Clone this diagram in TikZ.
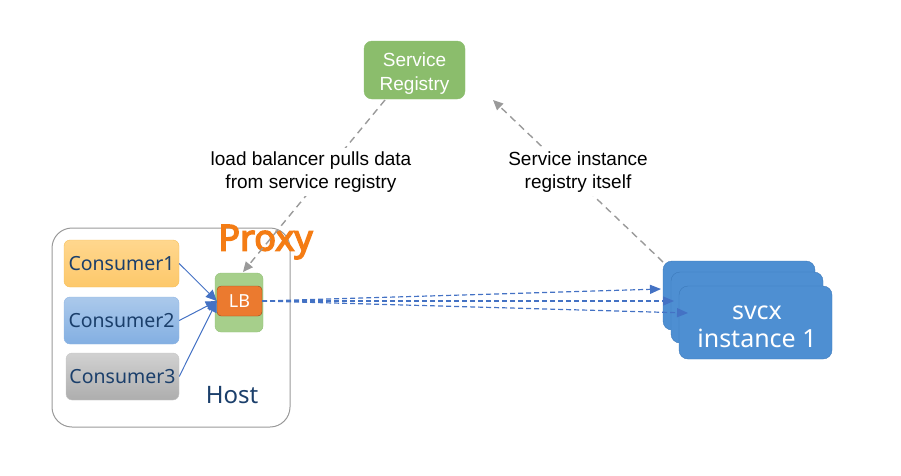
\documentclass[tikz,border=0pt]{standalone}
\usepackage{fontspec}
\setmainfont{Liberation Sans}
\newfontfamily\noto{Noto Sans}
\newfontfamily\notobold{Noto Sans}[FakeBold=4]
\usetikzlibrary{arrows.meta}
\definecolor{regGreen}{HTML}{8BBD6C}
\definecolor{lbGreen}{HTML}{A6CF8B}
\definecolor{lbGreenB}{HTML}{93C279}
\definecolor{lbOrange}{HTML}{EB7A2F}
\definecolor{lbOrangeB}{HTML}{9C4A1C}
\definecolor{proxyOrange}{HTML}{F47C14}
\definecolor{darkBlue}{HTML}{1B3F6B}
\definecolor{svcBlue}{HTML}{4E8FD2}
\definecolor{svcBlueB}{HTML}{3B79BB}
\definecolor{arrBlue}{HTML}{4472C4}
\definecolor{dashGray}{HTML}{9A9A9A}
\definecolor{c1top}{HTML}{FFD78E}
\definecolor{c1bot}{HTML}{FDC86A}
\definecolor{c1bd}{HTML}{F5BF5A}
\tikzset{
  registry/.style={draw=regGreen, fill=regGreen, rounded corners=8pt, minimum width=101pt, minimum height=58pt},
  consumer/.style={rounded corners=6pt, minimum height=47pt, text=darkBlue, font=\noto\fontsize{19.5pt}{22pt}\selectfont},
  svc/.style={draw=svcBlueB, fill=svcBlue, rounded corners=9pt, minimum width=152pt},
  grayarrow/.style={draw=dashGray, line width=1.4pt, dash pattern=on 7pt off 5pt, -{Triangle[length=10pt,width=9pt]}},
  bluedash/.style={draw=arrBlue, line width=1.2pt, dash pattern=on 5pt off 3pt, -{Triangle[length=11pt,width=9pt]}},
  bluearrow/.style={draw=arrBlue, line width=1pt, -{Triangle[length=11pt,width=10pt]}},
  lbl/.style={fill=white, align=center, font=\fontsize{19pt}{23.5pt}\selectfont, inner sep=3pt}
}
\begin{document}
\begin{tikzpicture}[x=1pt,y=-1pt]
\useasboundingbox (0,0) rectangle (901,475);
% registry
\node[registry] (reg) at (414.5,70) {};
\node[text=white, align=center, font=\fontsize{19pt}{24pt}\selectfont] (regt) at (414.5,74) {Service\\Registry};
% host
\node[draw=black!40, line width=1pt, rounded corners=20pt, minimum width=238pt, minimum height=199pt] (host) at (171,327.5) {};
\node[consumer, draw=c1bd, top color=c1top, bottom color=c1bot, minimum width=115pt] (c1) at (121.5,263.5) {Consumer1};
\node[consumer, draw={rgb,255:red,143;green,181;blue,227}, top color={rgb,255:red,171;green,201;blue,235}, bottom color={rgb,255:red,131;green,175;blue,226}, minimum width=115pt] (c2) at (121.5,320.5) {Consumer2};
\node[consumer, draw=black!22, top color=black!18, bottom color=black!32, minimum width=113pt] (c3) at (122.5,376.5) {Consumer3};
\node[text=darkBlue, font=\noto\fontsize{24pt}{28pt}\selectfont] (hostlbl) at (232,395) {Host};
% LB
\node[draw=lbGreenB, fill=lbGreen, rounded corners=6pt, minimum width=48pt, minimum height=59pt] (lbo) at (239,302.5) {};
\node[draw=lbOrangeB, fill=lbOrange, rounded corners=4pt, minimum width=45pt, minimum height=30pt, text=white, font=\noto\fontsize{18pt}{20pt}\selectfont] (lb) at (239.5,301) {LB};
\node[text=proxyOrange, font=\notobold\fontsize{36pt}{40pt}\selectfont] (proxy) at (265.5,242) {Proxy};
% service instances
\node[svc, minimum height=69pt] (s1) at (739,295.5) {};
\node[svc, minimum height=71pt] (s2) at (747,307.5) {};
\node[svc, minimum height=73pt, minimum width=153pt] (s3) at (755.5,322.5) {};
\node[text=white, align=center, font=\noto\fontsize{25pt}{28pt}\selectfont] (s3t) at (757,327) {svcx\\instance 1};
% coordinates
\coordinate (regL) at (385,100);
\coordinate (regR) at (493,100);
\coordinate (s1c) at (663,262);
\coordinate (lbtop) at (243,272);
\coordinate (t1) at (661,289);
\coordinate (t2) at (674,301);
\coordinate (t3) at (688,313);
% gray dashed
\draw[grayarrow] (regL) -- (lbtop);
\draw[grayarrow] (s1c) -- (regR);
\node[lbl] (l1) at (311,172) {load balancer pulls data\\from service registry};
\node[lbl] (l2) at (578,172) {Service instance\\registry itself};
% consumer arrows
\draw[bluearrow] (c1.east) -- (lb.west);
\draw[bluearrow] (c2.east) -- (lb.west);
\draw[bluearrow] (c3.east) -- (lb.west);
% blue dashed
\draw[bluedash] (lb.east) -- (t1);
\draw[bluedash] (lb.east) -- (t2);
\draw[bluedash] (lb.east) -- (t3);
\end{tikzpicture}
\end{document}
